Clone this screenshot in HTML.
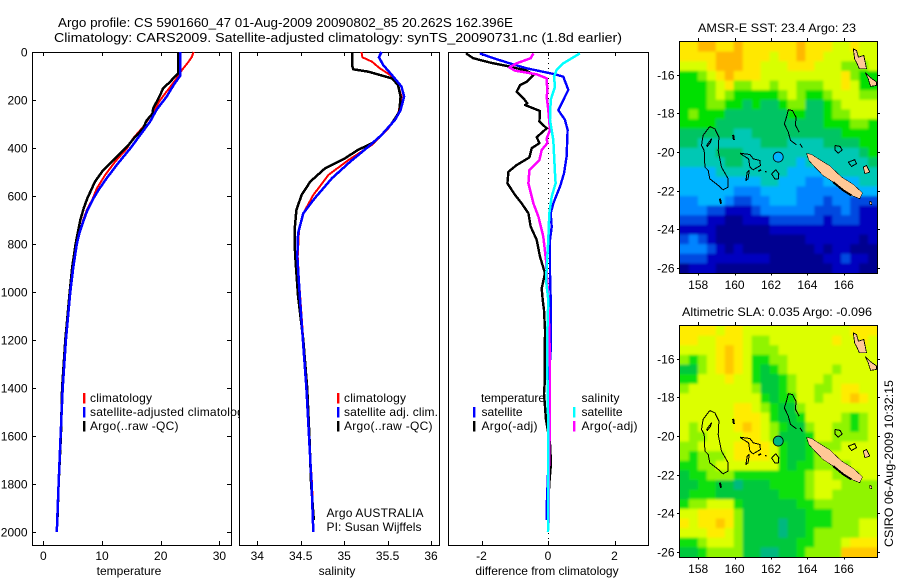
<!DOCTYPE html>
<html>
<head>
<meta charset="utf-8">
<title>Argo profile</title>
<style>
html,body{margin:0;padding:0;background:#fff;}
#chart{display:block;width:900px;height:580px;font-family:"Liberation Sans",sans-serif;font-size:12px;fill:#000;}
</style>
</head>
<body>
<svg id="chart" xmlns="http://www.w3.org/2000/svg" width="900" height="580" viewBox="0 0 900 580">
  <defs>
    <filter id="soft" x="-5%" y="-5%" width="110%" height="110%"><feGaussianBlur stdDeviation="1.4"/></filter>
    <clipPath id="clip-sst"><rect x="680" y="42" width="197" height="231"/></clipPath>
    <clipPath id="clip-sla"><rect x="680" y="326" width="197" height="231"/></clipPath>
  </defs>
  <rect x="0" y="0" width="900" height="580" fill="#fff"/>
  <text x="58" y="27" font-size="13" textLength="455" lengthAdjust="spacingAndGlyphs">Argo profile: CS 5901660_47 01-Aug-2009 20090802_85 20.262S 162.396E</text>
  <text x="54" y="42" font-size="13" textLength="568" lengthAdjust="spacingAndGlyphs">Climatology: CARS2009. Satellite-adjusted climatology: synTS_20090731.nc (1.8d earlier)</text>

  <g id="panel-temp"></g>
  <g id="legend-temp">
    <rect x="83" y="393" width="2.4" height="10.5" fill="#f00"/>
    <rect x="83" y="407" width="2.4" height="10.5" fill="#00f"/>
    <rect x="83" y="421" width="2.4" height="10.5" fill="#000"/>
    <text x="90" y="402" textLength="62">climatology</text>
    <text x="90" y="416" textLength="160">satellite-adjusted climatology</text>
    <text x="90" y="430" textLength="88.5">Argo(..raw -QC)</text>
  </g>

  <g id="panel-sal"></g>
  <g id="legend-sal">
    <rect x="337" y="393" width="2.4" height="10.5" fill="#f00"/>
    <rect x="337" y="407" width="2.4" height="10.5" fill="#00f"/>
    <rect x="337" y="421" width="2.4" height="10.5" fill="#000"/>
    <text x="344" y="402" textLength="62">climatology</text>
    <text x="344" y="416" textLength="94">satellite adj. clim.</text>
    <text x="344" y="430" textLength="88.5">Argo(..raw -QC)</text>
    <text x="326.5" y="517" textLength="97">Argo AUSTRALIA</text>
    <text x="326.5" y="531" textLength="95">PI: Susan Wijffels</text>
  </g>

  <g id="panel-diff"></g>
  <g id="legend-diff">
    <text x="481" y="402" textLength="64">temperature</text>
    <rect x="473" y="407" width="2.4" height="10.5" fill="#00f"/>
    <rect x="473" y="421" width="2.4" height="10.5" fill="#000"/>
    <text x="481.5" y="416" textLength="41">satellite</text>
    <text x="481.5" y="430" textLength="56">Argo(-adj)</text>
    <text x="581.5" y="402" textLength="38">salinity</text>
    <rect x="573" y="407" width="2.4" height="10.5" fill="#0ff"/>
    <rect x="573" y="421" width="2.4" height="10.5" fill="#f0f"/>
    <text x="581.5" y="416" textLength="41">satellite</text>
    <text x="581.5" y="430" textLength="56">Argo(-adj)</text>
  </g>

  <text x="698" y="32" textLength="158" lengthAdjust="spacingAndGlyphs">AMSR-E SST: 23.4 Argo: 23</text>
  <g id="map-sst"></g>
  <text x="682" y="316" textLength="190" lengthAdjust="spacingAndGlyphs">Altimetric SLA: 0.035 Argo: -0.096</text>
  <g id="map-sla"></g>
  <text transform="translate(893 547) rotate(-90)" textLength="167" lengthAdjust="spacingAndGlyphs">CSIRO 06-Aug-2009 10:32:15</text>
</svg>
<script>
/* ---------- profile data ---------- */
const depthTicks = [0,200,400,600,800,1000,1200,1400,1600,1800,2000];
const tempTicks = [0,10,20,30];
const salTicks = [34,34.5,35,35.5,36];
const salTickLabels = ['34','34.5','35','35.5','36'];
const diffTicks = [-2,0,2];

const tempClimDepth = [0,21,42,76,111,146,201,250,312,360,403,458,514,569,612,660,700,750,800,900,1000,1200,1400,1600,1800,2000];
const tempClimValues = [25.6,25.3,24.7,23.6,22.7,21.6,19.9,18.7,17.0,15.3,14.2,12.2,10.5,9.1,8.4,7.4,6.8,6.2,5.7,5.1,4.6,3.85,3.3,2.95,2.6,2.3];
const tempSatDepth = [0,100,130,186,241,290,346,402,471,526,575,612,660,700,750,800,900,1000,1200,1400,1600,1800,2000];
const tempSatValues = [23.3,23.3,22.4,21.0,19.3,18.2,16.5,14.8,12.5,10.8,9.4,8.5,7.5,6.9,6.2,5.7,5.1,4.6,3.85,3.3,2.95,2.6,2.3];
const tempArgoDepth = [0,89,103,124,152,180,208,236,257,285,319,354,388,437,492,540,610,650,700,800,900,1000,1200,1400,1600,1800,1950];
const tempArgoValues = [23.0,23.0,22.4,21.6,20.4,19.9,19.3,18.7,18.6,17.6,17.0,15.6,14.5,12.5,10.2,8.8,7.5,6.9,6.3,5.5,4.9,4.5,3.75,3.2,3.0,2.6,2.4];

const salClimDepth = [0,22,40,68,96,137,186,262,318,387,450,512,596,672,742,853,950,1200,1400,1600,1800,1950];
const salClimValues = [35.20,35.21,35.32,35.41,35.53,35.62,35.66,35.62,35.51,35.32,35.05,34.82,34.645,34.53,34.48,34.465,34.48,34.53,34.57,34.595,34.63,34.645];
const salSatDepth = [0,22,54,96,144,186,242,283,346,394,457,526,610,672,755,853,1025,1200,1400,1600,1800,2000];
const salSatValues = [35.43,35.40,35.45,35.55,35.66,35.69,35.65,35.585,35.43,35.28,35.07,34.86,34.66,34.53,34.47,34.46,34.49,34.525,34.565,34.595,34.625,34.645];
const salArgoDepth = [0,54,72,82,110,137,186,249,297,346,378,408,443,485,540,596,658,742,797,867,1019,1200,1400,1600,1800,1950];
const salArgoValues = [35.09,35.09,35.105,35.28,35.55,35.62,35.65,35.635,35.55,35.43,35.335,35.16,35.01,34.78,34.61,34.51,34.45,34.43,34.43,34.44,34.47,34.53,34.575,34.60,34.62,34.65];

const diffTempSatDepth = [6,26,50,68,93,103,158,200,242,283,325,436,506,561,631,672,728,783,922,1033,1241,1400,1727,1894,1950];
const diffTempSatValues = [-2.05,-1.64,-1.09,-0.64,0.21,0.46,0.61,0.46,0.31,0.51,0.59,0.56,0.48,0.36,0.16,0.08,0.11,0.06,0.06,0.08,0.08,0.01,0.01,-0.04,-0.04];
const diffTempArgoDepth = [6,26,44,61,78,96,124,138,165,193,214,221,246,290,318,355,380,401,439,471,499,547,596,631,672,728,783,853,922,985,1033,1075,1158,1379,1422,1533,1630,1713,1797,1850];
const diffTempArgoValues = [-2.47,-2.25,-1.74,-1.14,-0.64,-0.44,-0.64,-0.84,-0.94,-0.74,-0.62,-0.69,-0.24,-0.26,-0.04,-0.34,-0.26,-0.49,-0.56,-0.94,-1.19,-1.22,-0.99,-0.79,-0.59,-0.52,-0.34,-0.24,-0.09,-0.19,-0.16,-0.12,-0.09,-0.1,-0.12,-0.06,0.06,0.09,0.04,0.02];
const diffSalArgoDepth = [6,26,47,64,78,93,110,165,186,242,325,360,380,408,450,492,547,631,686,769,867,1033,1172,1311,1519,1727,1963];
const diffSalArgoValues = [-0.44,-0.52,-0.94,-1.16,-0.99,-0.34,-0.04,-0.02,-0.04,0.01,0.06,-0.04,-0.02,-0.19,-0.26,-0.56,-0.59,-0.44,-0.29,-0.14,-0.06,0.01,0.04,0.06,0.06,0.03,0.03];
const diffSalSatDepth = [6,47,75,103,144,200,283,367,506,547,603,672,783,950,1033,1172,1311,1588,1866,2000];
const diffSalSatValues = [0.96,0.46,0.26,0.18,0.21,0.08,0.06,0.16,0.21,0.23,0.11,0.04,0.01,-0.06,0.01,-0.02,-0.02,0.01,0.01,0];

/* ---------- map data: colour level per cell, 22 columns x 24 rows ---------- */
const sstColours = ['#000090','#0000c0','#0048e0','#0084ff','#00b4ff','#00c8b4','#00c464','#00e000','#80f000','#d8ff00','#ffe800','#ffb800','#ff9000'];
const slaColours = ['#000090','#0000c0','#0048e0','#0084ff','#00b4ff','#00b880','#00c83c','#10e010','#90f400','#dcff00','#ffec00','#ffc800','#ff9000'];
const sstCells = [
[10,10,11,11,10,10,11,10,10,10,10,10,10,11,10,10,10,9,9,10,9,9],
[10,10,10,10,11,11,11,10,10,10,9,10,10,11,10,10,9,9,9,9,9,9],
[9,9,9,10,11,11,11,10,10,9,9,9,10,10,10,9,9,9,8,8,8,9],
[7,7,8,9,10,11,10,10,10,9,9,9,9,9,9,9,9,9,10,8,7,7],
[7,7,7,8,9,10,8,8,9,9,8,9,9,8,8,8,9,9,10,9,7,7],
[7,7,7,8,9,8,7,7,7,7,7,8,9,8,7,7,8,9,9,9,8,8],
[7,7,7,8,8,7,7,6,7,6,6,7,8,8,6,6,7,8,9,9,9,9],
[7,8,7,7,7,6,6,6,6,6,6,6,7,7,6,6,7,8,8,9,9,9],
[7,7,7,7,6,6,6,6,6,6,6,6,6,6,6,6,7,7,7,8,8,7],
[6,6,6,6,6,6,5,5,6,6,6,6,6,6,6,6,6,6,7,7,7,7],
[6,6,5,5,5,5,5,5,5,6,6,6,5,5,5,5,6,6,6,6,7,7],
[5,5,5,5,6,6,6,5,5,5,5,5,5,5,5,5,5,5,5,5,6,7],
[5,5,5,5,5,6,6,5,5,5,5,5,5,4,5,5,5,5,5,5,5,6],
[4,4,4,4,5,5,5,5,5,5,5,5,4,4,4,4,4,5,5,5,5,5],
[4,4,4,4,4,4,4,4,4,5,5,4,4,4,3,3,4,4,4,4,5,5],
[4,4,4,4,4,4,3,3,3,4,4,4,4,3,3,3,3,3,3,4,4,4],
[3,3,4,4,4,3,2,2,3,3,4,4,4,3,3,3,2,3,3,2,2,2],
[3,3,3,2,2,1,1,1,2,3,3,3,3,3,3,2,2,2,3,2,1,1],
[2,2,2,1,1,0,0,1,1,1,2,2,2,2,2,2,1,2,2,2,1,1],
[1,1,1,1,0,0,0,0,0,0,1,1,1,1,1,1,1,1,1,1,1,1],
[2,3,2,1,0,0,0,0,0,0,0,0,0,0,1,1,1,1,1,1,0,1],
[3,3,3,2,1,0,1,0,0,0,0,0,0,0,0,1,0,1,1,0,0,0],
[2,2,2,1,1,1,1,1,1,1,0,0,0,0,0,0,1,1,2,1,1,0],
[0,1,1,1,0,0,0,0,0,0,0,0,0,0,0,0,0,1,1,1,0,0]
];
const slaCells = [
[10,10,10,10,9,10,10,9,9,9,9,9,9,9,9,9,9,9,9,10,10,10],
[10,10,9,9,10,10,10,9,8,8,9,9,9,9,9,9,9,10,9,9,10,9],
[9,9,9,9,10,11,10,9,8,8,8,9,9,9,9,9,9,9,9,9,9,9],
[8,7,8,9,10,11,10,9,7,7,8,8,9,9,9,9,9,9,9,9,9,9],
[6,6,8,9,10,11,10,9,7,6,7,8,9,9,9,9,9,8,9,9,9,9],
[7,7,9,9,9,10,9,9,7,6,6,7,8,9,9,9,8,9,9,9,9,9],
[8,9,9,9,9,9,9,9,8,6,6,7,8,9,9,8,8,9,10,10,9,9],
[9,9,9,9,9,9,9,9,9,7,6,7,7,9,9,8,9,9,10,11,10,9],
[9,9,9,9,9,9,10,10,9,8,7,6,6,8,9,9,9,9,9,9,9,9],
[9,9,9,9,9,9,10,10,10,9,7,6,6,7,9,9,9,9,8,7,8,9],
[9,8,9,9,9,9,10,11,10,9,8,7,6,6,8,9,9,8,8,7,8,9],
[9,8,8,9,9,9,9,10,10,9,8,6,6,6,7,9,9,8,8,8,8,9],
[8,8,9,9,9,9,10,10,10,10,9,7,6,6,7,8,8,8,9,9,9,9],
[8,7,8,8,8,9,10,10,10,10,9,7,6,6,7,8,9,9,9,9,9,9],
[7,7,8,8,9,9,9,9,9,9,9,7,6,7,7,8,8,8,8,9,9,9],
[6,7,7,8,8,8,7,7,7,7,7,7,7,7,8,9,9,8,8,8,9,9],
[6,6,7,7,6,6,5,6,6,6,7,7,7,7,8,9,9,9,8,8,8,8],
[6,7,7,7,6,6,6,6,6,6,6,7,7,7,8,9,9,8,8,8,8,8],
[7,8,8,9,9,9,7,6,6,6,6,6,6,7,7,8,8,8,8,8,8,8],
[9,9,10,10,10,10,8,6,6,6,6,6,6,6,7,7,7,8,8,8,8,8],
[10,9,10,10,11,10,8,6,6,6,6,5,6,6,7,7,7,8,8,8,9,9],
[9,9,9,10,10,9,8,6,6,6,6,5,6,6,7,8,8,8,8,8,9,9],
[7,7,8,9,9,9,8,6,6,6,6,6,6,7,7,8,8,8,9,10,10,10],
[6,6,7,8,8,8,8,6,6,5,5,6,6,7,8,8,8,8,11,11,11,11]
];
const lonTicks = [158,160,162,164,166];
const latTicks = [16,18,20,22,24,26];
const floatLon = [162.396];
const floatLat = [20.262];

/* coast and bathymetry outlines: [lon, lat] */
const landNewCaledonia = [[163.95,20.06],[164.23,20.13],[164.68,20.40],[165.23,20.72],[165.88,21.30],[166.52,21.68],[167.03,22.12],[166.88,22.42],[166.42,22.25],[165.97,21.99],[165.42,21.56],[164.87,21.22],[164.41,20.78],[164.08,20.44]];
const landSanto = [[166.52,14.65],[166.70,14.74],[166.80,15.08],[167.10,15.0],[167.25,15.69],[166.85,15.69],[166.70,15.35],[166.60,15.2]];
const landMalekula = [[167.19,15.9],[167.43,16.12],[167.8,16.38],[167.8,16.55],[167.47,16.6],[167.34,16.2]];
const landLifou = [[167.07,20.78],[167.25,20.7],[167.43,21.04],[167.16,21.13]];
const landIslet = [[167.43,22.55],[167.54,22.62],[167.54,22.72],[167.43,22.7]];
const contourChesterfield = [[158.64,18.68],[158.92,18.80],[159.14,19.23],[159.10,19.92],[159.28,20.78],[159.65,21.39],[159.65,21.82],[159.37,21.96],[159.10,21.73],[158.64,21.39],[158.55,20.96],[158.37,20.78],[158.33,19.92],[158.18,19.66],[158.27,19.14],[158.64,18.68]];
const contourInner = [[158.46,19.66],[158.73,19.32],[158.68,19.49],[158.51,19.71],[158.46,19.66]];
const contourEntrecasteaux = [[163.55,18.97],[163.35,18.63],[163.37,18.19],[163.18,17.85],[162.95,17.81],[162.85,18.19],[162.73,18.54],[162.95,18.97],[163.07,19.40],[163.40,19.63]];
const contourBellona = [[160.29,20.06],[160.84,20.13],[161.02,20.35],[161.39,20.44],[161.42,20.70],[161.02,20.92],[160.84,20.78],[160.77,20.35],[160.47,20.18],[160.29,20.06]];
const contourSmallA = [[160.69,21.04],[160.80,20.96],[160.74,21.39],[160.62,21.48],[160.69,21.04]];
const contourDashA = [[161.31,21.0],[161.46,20.92]];
const contourDashB = [[161.68,21.0],[161.75,21.04]];
const contourLoopA = [[162.03,21.13],[162.27,20.92],[162.43,21.13],[162.4,21.39],[162.21,21.39],[162.03,21.13]];
const contourReefA = [[159.92,19.11],[159.96,19.37]];
const contourReefB = [[159.19,22.42],[159.25,22.68]];
const contourLoopB = [[165.51,19.66],[165.79,19.71],[165.91,19.89],[165.69,20.06],[165.51,19.89],[165.51,19.66]];
const contourLoyalty = [[166.24,20.53],[166.6,20.4],[166.7,20.6],[166.43,20.75],[166.24,20.53]];
const contourIslet = [[163.59,19.57],[163.73,19.78]];
const contourNcReef = [[165.42,21.56],[165.97,21.99],[166.42,22.25]];

/* ---------- axis functions ---------- */
const NS = 'http://www.w3.org/2000/svg';
function depthY(d){ return 52 + d * 0.24; }
function tempX(t){ return 43.3 + t * 5.87; }
function salX(s){ return 257.3 + (s - 34) * 86.85; }
function diffX(v){ return 548 + v * 33.25; }
function mapX(lon){ return 680 + (lon - 157) * 18.2; }
function mapY(lat, top){ return top + (lat - 14.3) * 19.3; }

function make(parent, tag, props){
  const el = document.createElementNS(NS, tag);
  for (const k in props) el.setAttribute(k, props[k]);
  parent.appendChild(el);
  return el;
}
function pointsOf(depths, values, xf){
  return depths.map(function(d, i){ return xf(values[i]).toFixed(1) + ',' + depthY(d).toFixed(1); }).join(' ');
}
function series(parent, depths, values, xf, colour, width, name){
  const el = make(parent, 'polyline', {points: pointsOf(depths, values, xf), fill: 'none', stroke: colour, 'stroke-width': width, 'stroke-linejoin': 'round', 'shape-rendering': 'crispEdges'});
  
  
}
function panelFrame(g, left, width, xf, ticks, labels, showDepth, title, titleX){
  const top = 52, bottom = 545;
  const bg = make(g, 'rect', {x: left + 0.5, y: top + 0.5, width: width, height: bottom - top, fill: '#fff', stroke: '#000', 'stroke-width': 1});
  
  
  ticks.forEach(function(t, i){
    const x = Math.round(xf(t)) + 0.5;
    const tickTop = make(g, 'line', {x1: x, x2: x, y1: top, y2: top + 4, stroke: '#000'});
    
    
    const tickBottom = make(g, 'line', {x1: x, x2: x, y1: bottom, y2: bottom - 4, stroke: '#000'});
    
    
    const lab = make(g, 'text', {x: xf(t), y: 560, 'text-anchor': 'middle'});
    lab.textContent = labels[i];
    
    
  });
  if (showDepth) {
    depthTicks.forEach(function(d){
      const y = Math.round(depthY(d)) + 0.5;
      const tl = make(g, 'line', {x1: left, x2: left + 4, y1: y, y2: y, stroke: '#000'});
      
      
      const tr = make(g, 'line', {x1: left + width, x2: left + width - 4, y1: y, y2: y, stroke: '#000'});
      
      
      const lab = make(g, 'text', {x: 27.5, y: y + 4, 'text-anchor': 'end'});
      lab.textContent = String(d);
      
      
    });
  }
  const tt = make(g, 'text', {x: titleX, y: 575, 'text-anchor': 'middle'});
  tt.textContent = title;
  
  
}

/* ---------- profile panels ---------- */
const pTemp = document.getElementById('panel-temp');
panelFrame(pTemp, 32, 199, tempX, tempTicks, tempTicks.map(String), true, 'temperature', 129);
series(pTemp, tempClimDepth, tempClimValues, tempX, '#f00', 2, 'temperature-climatology-line');
series(pTemp, tempArgoDepth, tempArgoValues, tempX, '#000', 2.5, 'temperature-argo-line');
series(pTemp, tempSatDepth, tempSatValues, tempX, '#00f', 2.5, 'temperature-satellite-line');

const pSal = document.getElementById('panel-sal');
const legendTemp = document.getElementById('legend-temp');
document.getElementById('chart').insertBefore(legendTemp, document.getElementById('panel-sal'));
panelFrame(pSal, 239, 200, salX, salTicks, salTickLabels, false, 'salinity', 337);
series(pSal, salClimDepth, salClimValues, salX, '#f00', 2, 'salinity-climatology-line');
series(pSal, salArgoDepth, salArgoValues, salX, '#000', 2.5, 'salinity-argo-line');
series(pSal, salSatDepth, salSatValues, salX, '#00f', 2.5, 'salinity-satellite-line');

const pDiff = document.getElementById('panel-diff');
panelFrame(pDiff, 448, 200, diffX, diffTicks, diffTicks.map(String), false, 'difference from climatology', 547);
const zeroLine = make(pDiff, 'line', {x1: diffX(0) + 0.5, x2: diffX(0) + 0.5, y1: 53, y2: 544, stroke: '#000', 'stroke-dasharray': '1 4'});


series(pDiff, diffTempSatDepth, diffTempSatValues, diffX, '#00f', 2.4, 'temperature-satellite-difference-line');
series(pDiff, diffTempArgoDepth, diffTempArgoValues, diffX, '#000', 2.4, 'temperature-argo-difference-line');
series(pDiff, diffSalArgoDepth, diffSalArgoValues, diffX, '#f0f', 2.5, 'salinity-argo-difference-line');
series(pDiff, diffSalSatDepth, diffSalSatValues, diffX, '#0ff', 2.5, 'salinity-satellite-difference-line');

/* ---------- maps ---------- */
function drawMap(g, cells, palette, top, clipId, markerLevel, prefix){
  const left = 680, right = 877, bottom = top + 231;
  const colW = (right - left) / 22, rowH = (bottom - top) / 24;
  const clip = make(g, 'g', {'clip-path': 'url(#' + clipId + ')'});
  
  
  const field = make(clip, 'g', {filter: 'url(#soft)'});
  
  
  cells.forEach(function(row, r){
    row.forEach(function(level, c){
      const padL = c === 0 ? 8 : 0, padR = c === row.length - 1 ? 8 : 0;
      const padT = r === 0 ? 8 : 0, padB = r === cells.length - 1 ? 8 : 0;
      const cell = make(field, 'rect', {x: left + c * colW - padL, y: top + r * rowH - padT, width: colW + 0.6 + padL + padR, height: rowH + 0.6 + padT + padB, fill: palette[level]});
      
      
    });
  });
  function outline(points, fill, width, name){
    const pts = points.map(function(p){ return mapX(p[0]).toFixed(1) + ',' + mapY(p[1], top).toFixed(1); }).join(' ');
    const el = make(clip, fill === 'none' ? 'polyline' : 'polygon', {points: pts, fill: fill, stroke: '#000', 'stroke-width': width, 'stroke-linejoin': 'round', 'shape-rendering': 'crispEdges'});
    
    
  }
  outline(contourChesterfield, 'none', 1, 'chesterfield-contour');
  outline(contourInner, 'none', 1, 'chesterfield-inner-contour');
  outline(contourEntrecasteaux, 'none', 1, 'entrecasteaux-contour');
  outline(contourBellona, 'none', 1, 'bellona-contour');
  outline(contourSmallA, 'none', 1, 'reef-contour');
  outline(contourDashA, 'none', 1.5, 'reef-contour');
  outline(contourDashB, 'none', 1.5, 'reef-contour');
  outline(contourLoopA, 'none', 1, 'reef-contour');
  outline(contourReefA, 'none', 2, 'reef-contour');
  outline(contourReefB, 'none', 2, 'reef-contour');
  outline(contourLoopB, 'none', 1, 'reef-contour');
  outline(contourLoyalty, 'none', 1, 'loyalty-contour');
  outline(contourIslet, 'none', 1, 'reef-contour');
  outline(landSanto, '#ffc896', 0.8, 'santo-island');
  outline(landMalekula, '#ffc896', 0.8, 'malekula-island');
  outline(landLifou, '#ffc896', 0.8, 'lifou-island');
  outline(landIslet, '#ffc896', 0.8, 'islet');
  outline(landNewCaledonia, '#ffc896', 0.5, 'new-caledonia-island');
  outline(contourNcReef, 'none', 2, 'new-caledonia-reef');
  const marker = make(clip, 'circle', {cx: mapX(floatLon[0]), cy: mapY(floatLat[0], top), r: 5, fill: palette[markerLevel], stroke: '#000', 'stroke-width': 0.8});
  
  
  const frame = make(g, 'rect', {x: left - 0.5, y: top - 0.5, width: right - left + 1, height: bottom - top + 1, fill: 'none', stroke: '#000'});
  
  
  lonTicks.forEach(function(lon){
    const x = Math.round(mapX(lon)) + 0.5;
    const a = make(g, 'line', {x1: x, x2: x, y1: top - 4, y2: top, stroke: '#000'});
    
    
    const b = make(g, 'line', {x1: x, x2: x, y1: bottom, y2: bottom + 2.5, stroke: '#000'});
    
    
    const lab = make(g, 'text', {x: mapX(lon), y: bottom + 16, 'text-anchor': 'middle'});
    lab.textContent = String(lon);
    
    
  });
  latTicks.forEach(function(lat){
    const y = Math.round(mapY(lat, top)) + 0.5;
    const a = make(g, 'line', {x1: left - 3, x2: left, y1: y, y2: y, stroke: '#000'});
    
    
    const b = make(g, 'line', {x1: right, x2: right + 3, y1: y, y2: y, stroke: '#000'});
    
    
    const lab = make(g, 'text', {x: 674.5, y: y + 4, 'text-anchor': 'end'});
    lab.textContent = '-' + lat;
    
    
  });
}
drawMap(document.getElementById('map-sst'), sstCells, sstColours, 42, 'clip-sst', 4, 'sst');
drawMap(document.getElementById('map-sla'), slaCells, slaColours, 326, 'clip-sla', 5, 'sla');
</script>
</body>
</html>
